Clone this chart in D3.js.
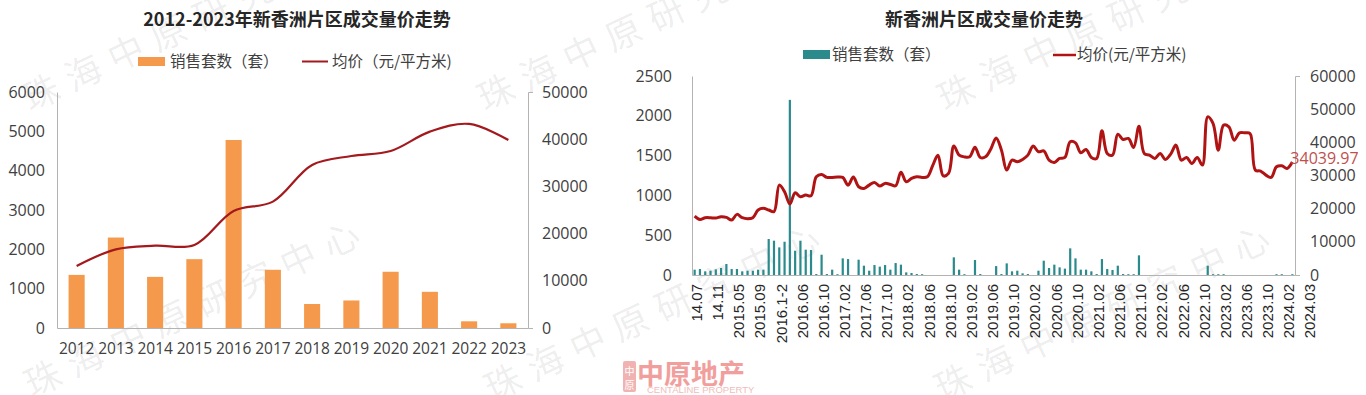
<!DOCTYPE html>
<html>
<head>
<meta charset="utf-8">
<script src="https://cdn.jsdelivr.net/npm/d3@7"></script>
<style>
  body { margin: 0; background: #fff; }
  svg { display: block; }
</style>
</head>
<body>
<svg id="chart" width="1366" height="395"></svg>
<script>
// yearly chart
var years = ["2012","2013","2014","2015","2016","2017","2018","2019","2020","2021","2022","2023"]
var yearSales = [1350, 2300, 1300, 1750, 4780, 1480, 610, 700, 1430, 920, 170, 120]
var yearPrice = [13140, 16670, 17440, 17590, 24790, 26770, 34540, 36440, 37500, 41600, 43230, 39840]

// monthly chart
var monthTicks = ["14.07","14.11","2015.05","2015.09","2016.1-2","2016.06","2016.10","2017.02","2017.06","2017.10",
  "2018.02","2018.06","2018.10","2019.02","2019.06","2019.10","2020.02","2020.06","2020.10","2021.02",
  "2021.06","2021.10","2022.02","2022.06","2022.10","2023.02","2023.06","2023.10","2024.02","2024.03"]
var monthSales = [67,75,46,54,71,88,138,75,75,46,54,54,67,67,
  452,431,347,418,2200,305,431,318,314,12,255,12,67,10,209,200,
  0,192,117,54,125,105,125,67,150,130,33,25,12,10,
  0,0,0,0,0,222,67,10,0,188,12,0,0,
  112,12,146,46,54,21,12,0,54,180,88,130,96,80,335,209,67,67,46,12,200,75,63,117,12,10,10,247,
  0,0,0,0,0,0,0,0,0,0,0,0,
  117,10,10,10,
  0,0,0,0,0,0,0,0,0,
  10,10,0,10]
var monthPrice = [17770,16760,17270,17270,17170,17570,17370,16560,18280,17270,16970,17270,19590,20090,
  19590,19090,27110,25100,21390,24800,23590,24100,23890,29620,30320,29420,29420,29520,29420,27110,
  29520,26600,26100,27110,27920,26800,27620,27310,26900,31000,28110,29110,29620,29420,
  29620,33000,36140,29900,30620,38900,36140,35600,35640,38550,35440,35640,38000,
  41300,37650,31630,34640,34130,34840,36140,38860,37150,37450,34640,33940,35140,35440,40160,39850,
  36850,37850,35440,35140,43470,36650,36140,42470,40860,41160,38450,44880,
  36650,36140,35140,36650,34840,36450,39160,34640,35440,33630,35440,33130,
  47690,45680,37650,45180,
  44680,40660,42870,42870,42670,31630,31330,30120,29420,
  32630,32930,32130,34039.97]

var cjk = "'Noto Sans CJK SC', sans-serif"
var num = "'Open Sans', sans-serif"
var axisColor = "#b3b3b3"
var textColor = "#404040"

var svg = d3.select("#chart")

// watermark
var marks = [[30,112],[32,398],[485,112],[492,402],[945,112],[942,402]]
svg.append("g").selectAll("text")
  .data(marks)
  .enter()
  .append("text")
  .attr("transform", d => "translate(" + d[0] + "," + d[1] + ") rotate(-25)")
  .attr("font-family", cjk)
  .attr("font-size", 36)
  .attr("letter-spacing", 11)
  .attr("fill", "#000")
  .attr("fill-opacity", 0.08)
  .text("珠海中原研究中心")

// ---------- left chart ----------
var L = {left: 57, right: 528, top: 92, bottom: 328}

var x = d3.scaleBand().domain(years).range([L.left, L.right]).paddingInner(0.59).paddingOuter(0.295)
var ySales = d3.scaleLinear().domain([0, 6000]).range([L.bottom, L.top])
var yPrice = d3.scaleLinear().domain([0, 50000]).range([L.bottom, L.top])

var left = svg.append("g")

left.append("text")
  .attr("x", 297).attr("y", 26)
  .attr("text-anchor", "middle")
  .attr("font-family", cjk).attr("font-weight", "bold").attr("font-size", 18)
  .attr("fill", "#262626")
  .text("2012-2023年新香洲片区成交量价走势")

function styleAxis(g, font, size) {
  g.select(".domain").attr("stroke", axisColor)
  g.selectAll("text").attr("font-family", font).attr("font-size", size).attr("fill", textColor)
}

left.append("g")
  .attr("transform", "translate(" + L.left + ",0)")
  .call(d3.axisLeft(ySales).tickValues(d3.range(0, 6001, 1000)).tickFormat(d3.format("d")).tickSize(0).tickSizeOuter(0).tickPadding(12))
  .call(g => styleAxis(g, num, 16))

left.append("g")
  .attr("transform", "translate(" + L.right + ",0)")
  .call(d3.axisRight(yPrice).tickValues(d3.range(0, 50001, 10000)).tickFormat(d3.format("d")).tickSize(0).tickSizeOuter(5).tickPadding(14))
  .call(g => styleAxis(g, num, 16))

left.append("g")
  .attr("transform", "translate(0," + L.bottom + ")")
  .call(d3.axisBottom(x).tickSize(0).tickSizeOuter(0).tickPadding(15))
  .call(g => styleAxis(g, num, 15.5))

left.append("g")
  .selectAll("rect")
  .data(yearSales)
  .enter()
  .append("rect")
  .attr("x", (d, i) => x(years[i]))
  .attr("y", d => ySales(d))
  .attr("width", x.bandwidth())
  .attr("height", d => L.bottom - ySales(d))
  .attr("fill", "#f59a4c")

var yearLine = d3.line()
  .x((d, i) => x(years[i]) + x.bandwidth() / 2)
  .y(d => yPrice(d))
  .curve(d3.curveCatmullRom.alpha(0.5))

left.append("path")
  .attr("d", yearLine(yearPrice))
  .attr("fill", "none")
  .attr("stroke", "#a3191d")
  .attr("stroke-width", 2.2)

// legend
left.append("rect").attr("x", 138).attr("y", 57).attr("width", 27).attr("height", 9).attr("fill", "#f59a4c")
left.append("text").attr("x", 170).attr("y", 67).attr("font-family", cjk).attr("font-size", 15.5).attr("fill", textColor).text("销售套数（套）")
left.append("line").attr("x1", 302).attr("x2", 328).attr("y1", 61.5).attr("y2", 61.5).attr("stroke", "#a3191d").attr("stroke-width", 2)
left.append("text").attr("x", 332).attr("y", 67).attr("font-family", cjk).attr("font-size", 15.5).attr("fill", textColor).text("均价（元/平方米)")

// ---------- right chart ----------
var R = {left: 692, right: 1295, top: 76, bottom: 275}

var xM = d3.scaleLinear().domain([-0.5, monthSales.length - 0.5]).range([R.left, R.right])
var yS = d3.scaleLinear().domain([0, 2500]).range([R.bottom, R.top])
var yP = d3.scaleLinear().domain([0, 60000]).range([R.bottom, R.top])

var right = svg.append("g")

right.append("text")
  .attr("x", 984).attr("y", 26)
  .attr("text-anchor", "middle")
  .attr("font-family", cjk).attr("font-weight", "bold").attr("font-size", 18)
  .attr("fill", "#262626")
  .text("新香洲片区成交量价走势")

right.append("g")
  .attr("transform", "translate(" + R.left + ",0)")
  .call(d3.axisLeft(yS).tickValues(d3.range(0, 2501, 500)).tickFormat(d3.format("d")).tickSize(0).tickSizeOuter(0).tickPadding(20))
  .call(g => styleAxis(g, num, 16))

right.append("g")
  .attr("transform", "translate(" + R.right + ",0)")
  .call(d3.axisRight(yP).tickValues(d3.range(0, 60001, 10000)).tickFormat(d3.format("d")).tickSize(0).tickSizeOuter(5).tickPadding(15))
  .call(g => styleAxis(g, num, 16))

right.append("g")
  .attr("transform", "translate(0," + R.bottom + ")")
  .call(d3.axisBottom(xM).tickValues([]).tickSizeOuter(0))
  .call(g => styleAxis(g, num, 15))

right.append("g")
  .selectAll("text")
  .data(monthTicks)
  .enter()
  .append("text")
  .attr("transform", (d, i) => "translate(" + (xM(i * 4) + 2) + "," + (R.bottom + 9) + ") rotate(-90)")
  .attr("dy", "0.35em")
  .attr("text-anchor", "end")
  .attr("font-family", "'Liberation Sans', Arial, sans-serif")
  .attr("font-size", 15)
  .attr("fill", "#262626")
  .text(d => d)

var bw = 2.2
right.append("g")
  .selectAll("rect")
  .data(monthSales)
  .enter()
  .append("rect")
  .attr("x", (d, i) => xM(i) - bw / 2)
  .attr("y", d => yS(d))
  .attr("width", bw)
  .attr("height", d => R.bottom - yS(d))
  .attr("fill", "#2a8a8c")

var monthLine = d3.line()
  .x((d, i) => xM(i))
  .y(d => yP(d))
  .curve(d3.curveCatmullRom.alpha(0.5))

right.append("path")
  .attr("d", monthLine(monthPrice))
  .attr("fill", "none")
  .attr("stroke", "#b01313")
  .attr("stroke-width", 3)
  .attr("stroke-linejoin", "round")

var lastI = monthPrice.length - 1
right.append("text")
  .attr("x", xM(lastI) - 2)
  .attr("y", yP(monthPrice[lastI]) + 2)
  .attr("font-family", num)
  .attr("font-size", 16)
  .attr("fill", "#c0504d")
  .text(d3.format(".2f")(monthPrice[lastI]))

// legend
right.append("rect").attr("x", 803).attr("y", 50).attr("width", 27).attr("height", 9).attr("fill", "#2a8a8c")
right.append("text").attr("x", 832).attr("y", 60).attr("font-family", cjk).attr("font-size", 15.5).attr("fill", textColor).text("销售套数（套）")
right.append("line").attr("x1", 1053).attr("x2", 1076).attr("y1", 55).attr("y2", 55).attr("stroke", "#b01313").attr("stroke-width", 2.5)
right.append("text").attr("x", 1077).attr("y", 60).attr("font-family", cjk).attr("font-size", 15.5).attr("fill", textColor).text("均价(元/平方米)")

// logo
var logo = svg.append("g").attr("opacity", 0.6)
logo.append("rect").attr("x", 623).attr("y", 361).attr("width", 13).attr("height", 31).attr("rx", 2).attr("fill", "#e8827f")
logo.append("text").attr("x", 629.5).attr("y", 375).attr("text-anchor", "middle").attr("font-family", cjk).attr("font-size", 10).attr("fill", "#fff").text("中")
logo.append("text").attr("x", 629.5).attr("y", 389).attr("text-anchor", "middle").attr("font-family", cjk).attr("font-size", 10).attr("fill", "#fff").text("原")
logo.append("text").attr("x", 637).attr("y", 384).attr("font-family", cjk).attr("font-weight", "bold").attr("font-size", 27).attr("fill", "#e8615d").text("中原地产")
logo.append("text").attr("x", 647).attr("y", 393).attr("font-family", "'Liberation Sans', Arial, sans-serif").attr("font-size", 9.5).attr("fill", "#e8908d").text("CENTALINE PROPERTY")
</script>
</body>
</html>
